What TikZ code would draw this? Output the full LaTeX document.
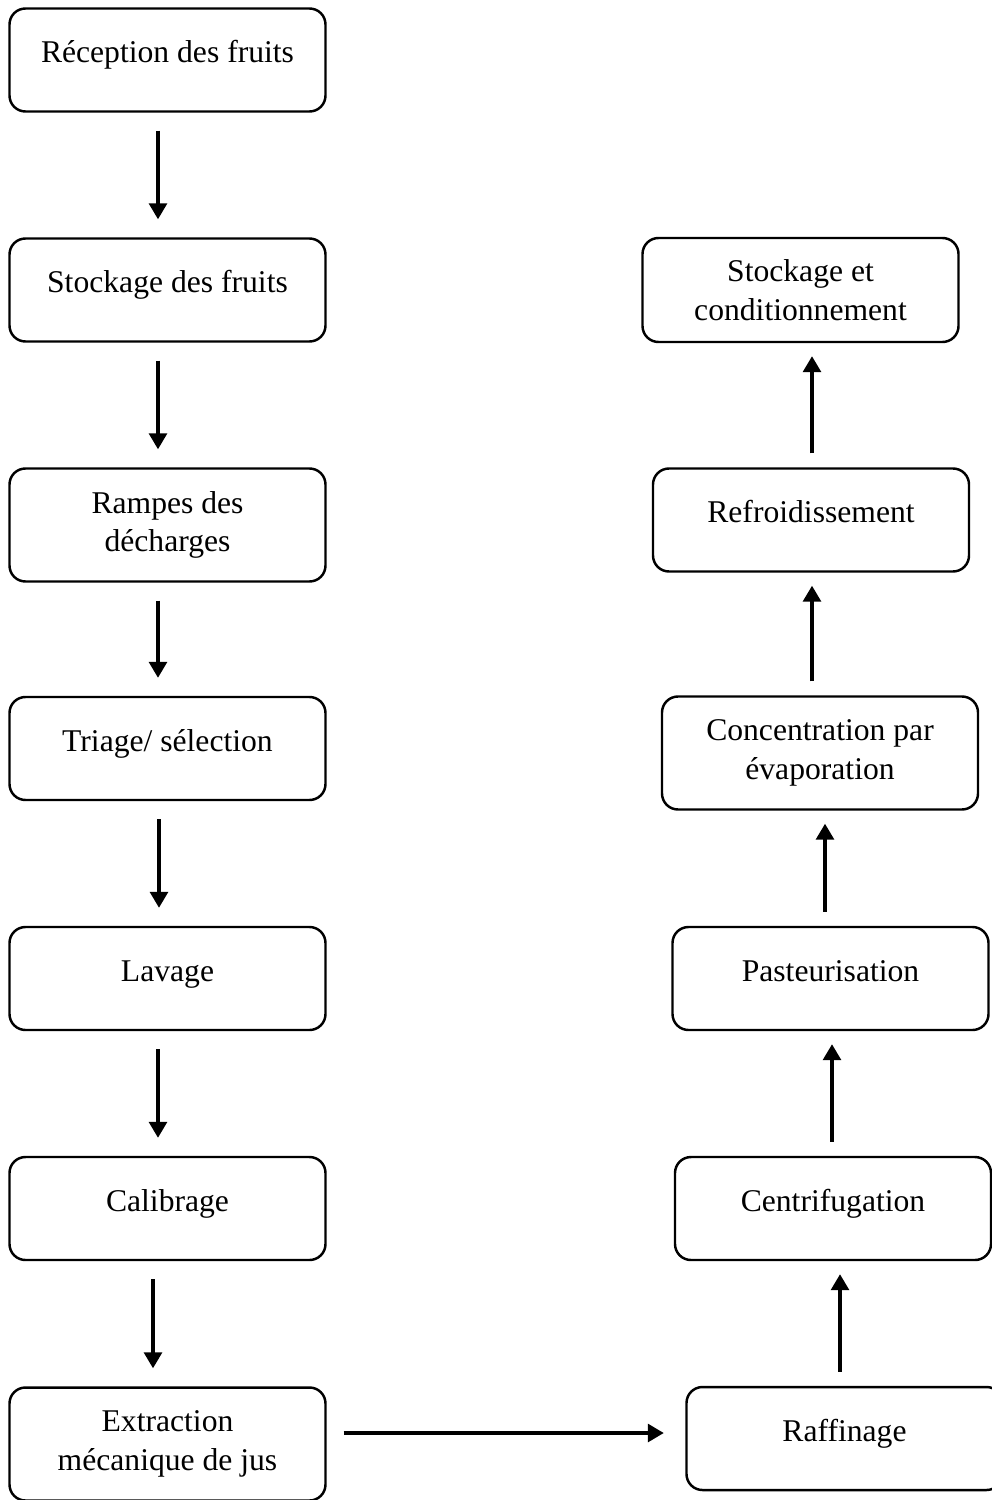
\documentclass[tikz,border=0pt]{standalone}
\usepackage{fontspec}
\setmainfont{Liberation Serif}
\usetikzlibrary{positioning,arrows.meta}

\begin{document}
\begin{tikzpicture}
        \tikzstyle{box} = [rectangle, rounded corners=0.32cm, minimum width=6.32cm, text centered, draw=black, line width=1.4pt, font=\fontsize{18}{22}\selectfont, node distance=4.6cm]
        \tikzstyle{stage} = [box, minimum height=2.06cm, text height=.5cm, text depth=.4cm]
        \tikzstyle{stagetwo} = [box, minimum height=2.26cm, align=center]
        \tikzstyle{arrow} = [line width=1.8pt, -{Triangle[length=0.32cm, width=0.36cm]}]
        \tikzstyle{down} = [arrow, shorten <=0.36cm, shorten >=0.36cm]
        \tikzstyle{up} = [arrow, shorten <=0.28cm, shorten >=0.26cm]

                \useasboundingbox (0,0) rectangle (19.82,-30);

                % left column
                \node (s1) [stage] at (3.35,-1.2) {Réception des fruits};
                \node (s2) [stage, below of=s1] {Stockage des fruits};
                \node (s3) [stagetwo, below of=s2, yshift=-0.1cm] {Rampes des\\ décharges};
                \node (s4) [stage, below of=s3, yshift=0.13cm] {Triage/ sélection};
                \node (s5) [stage, below of=s4] {Lavage};
                \node (s6) [stage, below of=s5] {Calibrage};
                \node (s7) [stagetwo, below of=s6, yshift=-0.11cm] {Extraction\\ mécanique de jus};

                % right column
                \node (r1) [stage, node distance=13.54cm, right of=s7, yshift=0.11cm] {Raffinage};
                \node (r2) [stage, above of=r1, xshift=-0.23cm] {Centrifugation};
                \node (r3) [stage, above of=r2, xshift=-0.05cm] {Pasteurisation};
                \node (r4) [stagetwo, above of=r3, xshift=-0.21cm, yshift=-0.09cm] {Concentration par\\ évaporation};
                \node (r5) [stage, above of=r4, xshift=-0.18cm, yshift=0.06cm] {Refroidissement};
                \node (r6) [stagetwo, minimum height=2.08cm, above of=r5, xshift=-0.21cm] {Stockage et\\ conditionnement};

                \draw[down] ([xshift=-0.19cm]s1.south) -- ([xshift=-0.19cm]s1.south |- s2.north);
                \draw[down] ([xshift=-0.19cm]s2.south) -- ([xshift=-0.19cm]s2.south |- s3.north);
                \draw[down] ([xshift=-0.19cm]s3.south) -- ([xshift=-0.19cm]s3.south |- s4.north);
                \draw[down] ([xshift=-0.17cm]s4.south) -- ([xshift=-0.17cm]s4.south |- s5.north);
                \draw[down] ([xshift=-0.19cm]s5.south) -- ([xshift=-0.19cm]s5.south |- s6.north);
                \draw[down] ([xshift=-0.29cm]s6.south) -- ([xshift=-0.29cm]s6.south |- s7.north);

                \draw[arrow, shorten <=0.34cm, shorten >=0.43cm] ([yshift=0.22cm]s7.east) -- ([yshift=0.22cm]s7.east -| r1.west);

                \draw[up] ([xshift=-0.09cm]r1.north) -- ([xshift=-0.09cm]r1.north |- r2.south);
                \draw[up] ([xshift=-0.02cm]r2.north) -- ([xshift=-0.02cm]r2.north |- r3.south);
                \draw[up] ([xshift=-0.11cm]r3.north) -- ([xshift=-0.11cm]r3.north |- r4.south);
                \draw[up] ([xshift=-0.16cm]r4.north) -- ([xshift=-0.16cm]r4.north |- r5.south);
                \draw[up] ([xshift=0.02cm]r5.north) -- ([xshift=0.02cm]r5.north |- r6.south);

    \end{tikzpicture}
\end{document}
